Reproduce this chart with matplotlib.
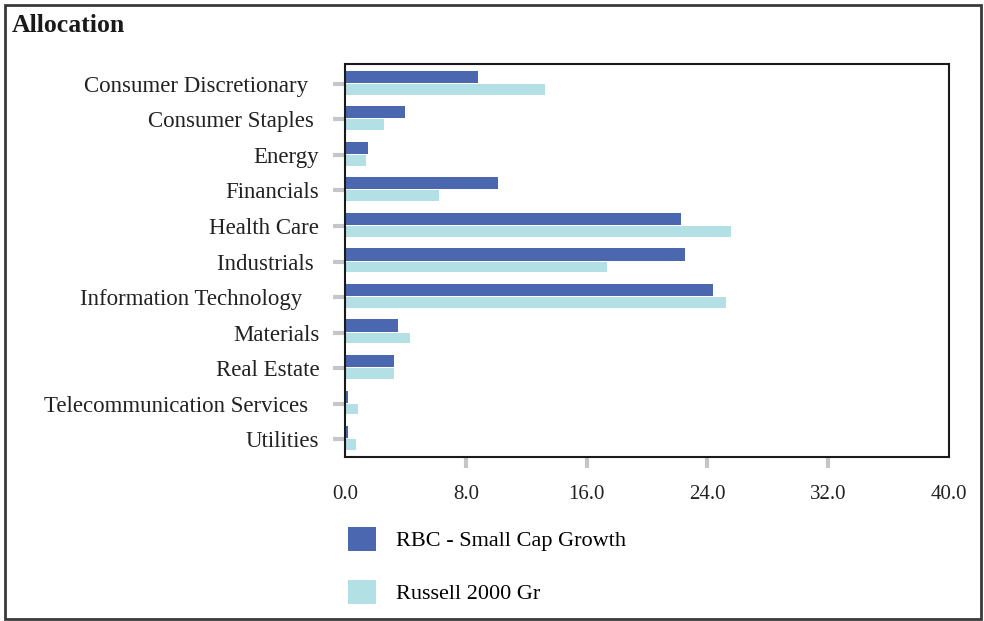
import matplotlib
matplotlib.use("Agg")
import matplotlib.pyplot as plt
import numpy as np

sectors = ["Consumer Discretionary  ", "Consumer Staples ", "Energy", "Financials",
           "Health Care", "Industrials ", "Information Technology   ", "Materials",
           "Real Estate", "Telecommunication Services  ", "Utilities"]
rbc = [8.8, 4.0, 1.5, 10.1, 22.25, 22.5, 24.4, 3.5, 3.25, 0.2, 0.2]
russell = [13.25, 2.6, 1.4, 6.2, 25.55, 17.35, 25.2, 4.3, 3.25, 0.85, 0.7]
xticks = [0, 8, 16, 24, 32, 40]

plt.rcParams['font.family'] = ['Liberation Serif', 'DejaVu Serif']

fig = plt.figure(figsize=(9.84, 6.21), dpi=100)
ax = fig.add_axes([345 / 984, 1 - 457 / 621, 604 / 984, 393 / 621])

y = np.arange(len(sectors))
ax.barh(y - 0.2, rbc, height=0.34, color='#4A67B0', label='RBC - Small Cap Growth')
ax.barh(y + 0.15, russell, height=0.3, color='#B3E0E5', label='Russell 2000 Gr')

ax.set_ylim(len(sectors) - 0.5, -0.56)
ax.set_xlim(0, 40)
ax.set_yticks(y)
ax.set_yticklabels(sectors, fontsize=16.5, color='#222222')
ax.set_xticks(xticks)
ax.set_xticklabels([f"{v:.1f}" for v in xticks], fontsize=15, color='#222222')

ax.tick_params(axis='y', length=8.5, width=3, color='#C4C6CA', pad=10)
ax.tick_params(axis='x', length=8, width=3, color='#C4C6CA', pad=12)
xt = ax.xaxis.get_major_ticks()
xt[0].tick1line.set_visible(False)
xt[-1].tick1line.set_visible(False)

for s in ax.spines.values():
    s.set_color('#1a1a1a')
    s.set_linewidth(1.5)

fig.text(12 / 984, 1 - 25 / 621, "Allocation", fontsize=18.5, fontweight='bold',
         va='center', ha='left', color='#1a1a1a')

ax.legend(loc='upper left', bbox_to_anchor=(339 / 984, 1 - 518 / 621),
          bbox_transform=fig.transFigure, frameon=False, fontsize=16,
          handlelength=1.25, handleheight=1.3, handletextpad=0.9,
          labelspacing=1.27, borderaxespad=0)

fig.patches.append(plt.Rectangle((5 / 984, 2 / 621), 976 / 984, 614 / 621,
                                 transform=fig.transFigure, fill=False,
                                 edgecolor='#3a3a3a', linewidth=2))

fig.savefig("out.png", dpi=100)
